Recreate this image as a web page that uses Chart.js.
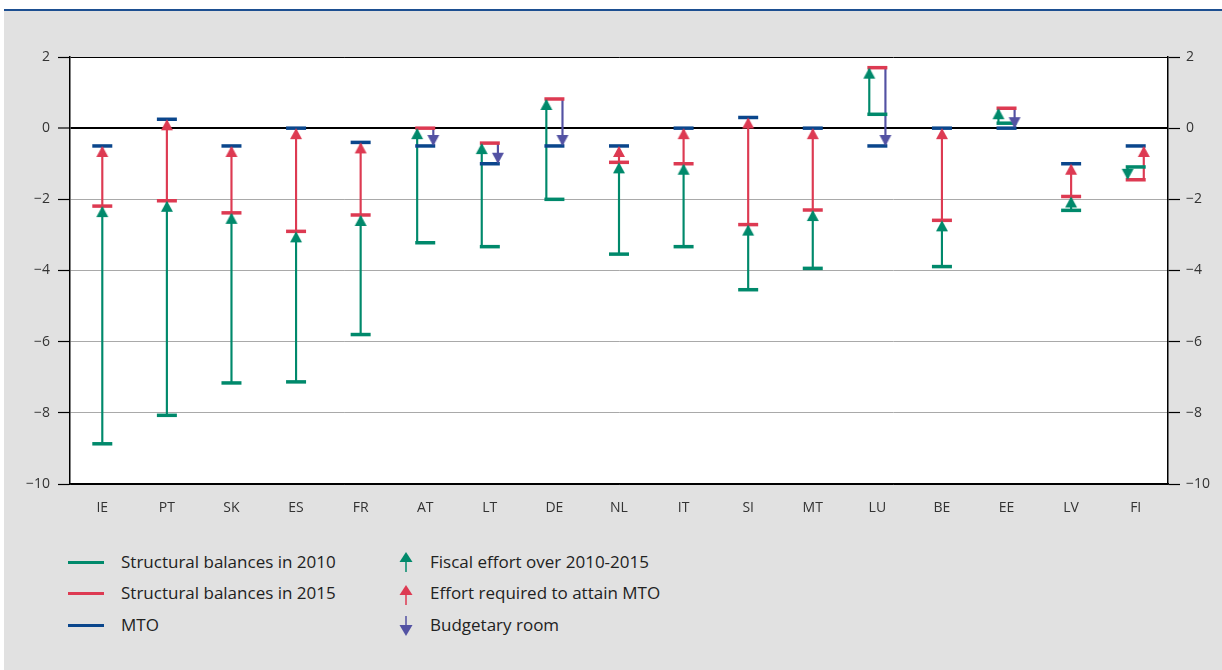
<!DOCTYPE html>
<html>
<head>
<meta charset="utf-8">
<script src="https://cdn.jsdelivr.net/npm/chart.js@4/dist/chart.umd.min.js"></script>
<style>
html,body{margin:0;padding:0;background:#fff;width:1222px;height:670px;overflow:hidden;font-family:'Open Sans',sans-serif;}
#topline{position:absolute;left:4px;top:9px;width:1218px;height:2px;background:#1d4f91;}
#panel{position:absolute;left:4px;top:11px;width:1218px;height:659px;background:#e1e1e1;}
#wrap{position:absolute;left:0;top:0;width:1222px;height:530px;}
.sw{position:absolute;left:68px;width:36px;height:3px;}
.lt{position:absolute;font-size:17px;color:#222;line-height:20px;white-space:nowrap;}
.ic{position:absolute;left:399px;}
</style>
</head>
<body>
<div id="topline"></div>
<div id="panel"></div>
<div id="wrap"><canvas id="c" width="1222" height="530"></canvas></div>

<div class="sw" style="top:561px;background:#00896b"></div>
<div class="lt" style="left:121px;top:552px">Structural balances in 2010</div>
<div class="sw" style="top:592px;background:#dd3a52"></div>
<div class="lt" style="left:121px;top:583px">Structural balances in 2015</div>
<div class="sw" style="top:624px;background:#0a468c"></div>
<div class="lt" style="left:121px;top:615px">MTO</div>

<svg class="ic" style="top:552px" width="14" height="21"><polygon points="0.5,10 13.5,10 7,0" fill="#00896b"/><rect x="6.25" y="9" width="1.5" height="11" fill="#00896b"/></svg>
<div class="lt" style="left:430px;top:552px">Fiscal effort over 2010-2015</div>
<svg class="ic" style="top:585px" width="14" height="21"><polygon points="0.5,10 13.5,10 7,0" fill="#dd3a52"/><rect x="6.25" y="9" width="1.5" height="11" fill="#dd3a52"/></svg>
<div class="lt" style="left:430px;top:583px">Effort required to attain MTO</div>
<svg class="ic" style="top:616px" width="14" height="21"><rect x="6.25" y="0" width="1.5" height="11" fill="#5352a3"/><polygon points="0.5,9 13.5,9 7,20" fill="#5352a3"/></svg>
<div class="lt" style="left:430px;top:615px">Budgetary room</div>

<script>
// ---- data ----
const categories = ['IE','PT','SK','ES','FR','AT','LT','DE','NL','IT','SI','MT','LU','BE','EE','LV','FI'];
const sb2010 = [-8.87,-8.07,-7.16,-7.13,-5.8,-3.22,-3.33,-2.0,-3.54,-3.33,-4.54,-3.94,0.39,-3.89,0.14,-2.31,-1.09];
const sb2015 = [-2.19,-2.04,-2.38,-2.9,-2.44,0.0,-0.42,0.82,-0.96,-1.0,-2.71,-2.3,1.7,-2.59,0.56,-1.92,-1.45];
const mto    = [-0.5,0.25,-0.5,0.0,-0.4,-0.5,-1.0,-0.5,-0.5,0.0,0.3,0.0,-0.5,0.0,0.0,-1.0,-0.5];
const yTicks = [2,0,-2,-4,-6,-8,-10];

// ---- styles ----
const GREEN='#00896b', RED='#dd3a52', BLUE='#0a468c', PURPLE='#5352a3';
const SHIFT = 0.125;

function arrowImg(color, down){
  const c=document.createElement('canvas'); c.width=14; c.height=26;
  const g=c.getContext('2d'); g.fillStyle=color; g.beginPath();
  if(!down){ g.moveTo(7,13); g.lineTo(13,24); g.lineTo(1,24); }
  else { g.moveTo(7,13); g.lineTo(13,2); g.lineTo(1,2); }
  g.closePath(); g.fill(); return c;
}
const imgs = {
  gUp: arrowImg(GREEN,false), gDown: arrowImg(GREEN,true),
  rUp: arrowImg(RED,false), pDown: arrowImg(PURPLE,true)
};

// ---- build arrow datasets from the data ----
const fiscalBars=[], fiscalPts=[], reqBars=[], reqPts=[], roomBars=[], roomPts=[];
categories.forEach((c,i)=>{
  const split = sb2015[i] > mto[i] || sb2015[i] < sb2010[i];
  const xg = split ? i - SHIFT : i, xo = split ? i + SHIFT : i;
  fiscalBars.push({x:xg, y:[sb2010[i], sb2015[i]]});
  fiscalPts.push({x:xg, y:sb2015[i], down: sb2015[i] < sb2010[i]});
  if (mto[i] > sb2015[i]) { reqBars.push({x:xo, y:[sb2015[i], mto[i]]}); reqPts.push({x:xo, y:mto[i]}); }
  else if (mto[i] < sb2015[i]) { roomBars.push({x:xo, y:[sb2015[i], mto[i]]}); roomPts.push({x:xo, y:mto[i]}); }
});
const markers = arr => arr.map((v,i)=>({x:i, y:v}));

const barDs = (data,color,label) => ({type:'bar', label, data, backgroundColor:color, borderWidth:0,
  barThickness:1.5, grouped:false, order:3});
const headDs = (data,style,label) => ({type:'scatter', label, data, pointStyle:style, pointRadius:6,
  pointBorderWidth:0, order:0});
const markDs = (data,color,label) => ({type:'scatter', label, data, pointStyle:'line', pointRadius:10,
  pointBorderWidth:3.5, borderColor:color, backgroundColor:color, order:1});

const plotBg = { id:'plotBg', beforeDraw(chart){ const {ctx, chartArea:a}=chart; ctx.save();
  ctx.fillStyle='#fff'; ctx.fillRect(a.left,a.top,a.right-a.left,a.bottom-a.top); ctx.restore(); } };

const tickFont = {family:"'Open Sans', sans-serif", size:14};
const fmt = v => v < 0 ? '\u2212' + Math.abs(v) : String(v);

new Chart(document.getElementById('c'), {
  type:'scatter',
  data:{ datasets:[
    headDs(fiscalPts, ctx => (ctx.raw && ctx.raw.down) ? imgs.gDown : imgs.gUp, 'Fiscal effort over 2010-2015'),
    headDs(reqPts, imgs.rUp, 'Effort required to attain MTO'),
    headDs(roomPts, imgs.pDown, 'Budgetary room'),
    markDs(markers(sb2015), RED, 'Structural balances in 2015'),
    markDs(markers(sb2010), GREEN, 'Structural balances in 2010'),
    markDs(markers(mto), BLUE, 'MTO'),
    barDs(fiscalBars, GREEN, 'fiscal shaft'),
    barDs(reqBars, RED, 'required shaft'),
    barDs(roomBars, PURPLE, 'room shaft')
  ]},
  options:{
    responsive:false, animation:false, events:[], devicePixelRatio:1,
    layout:{padding:{top:57,left:0,right:0,bottom:0}},
    plugins:{legend:{display:false}, tooltip:{enabled:false}},
    scales:{
      x:{type:'linear', min:-0.5, max:16.5, offset:false,
        grid:{display:false, drawTicks:false, offset:false},
        border:{display:true, color:'#000', width:1.5},
        afterBuildTicks: ax => { ax.ticks = categories.map((c,i)=>({value:i})); },
        afterFit: ax => { ax.height = 46; },
        ticks:{autoSkip:false, maxRotation:0, padding:16, color:'#333', font:tickFont,
          callback: v => categories[v]}
      },
      y:{type:'linear', position:'left', min:-10, max:2,
        afterBuildTicks: ax => { ax.ticks = yTicks.map(v=>({value:v})); },
        afterFit: ax => { ax.width = 70; },
        grid:{color: c => (c.tick && [0,2,-10].includes(c.tick.value)) ? '#000' : '#a9a9a9',
              lineWidth: c => (c.tick && c.tick.value===0) ? 2 : 1,
              tickLength:12, tickColor:'#000', tickWidth:1.2},
        border:{display:true, color:'#000', width:1.5},
        ticks:{padding:8, color:'#333', font:tickFont, callback: fmt}
      },
      y2:{type:'linear', position:'right', min:-10, max:2,
        afterBuildTicks: ax => { ax.ticks = yTicks.map(v=>({value:v})); },
        afterFit: ax => { ax.width = 54; },
        grid:{drawOnChartArea:false, tickLength:12, tickColor:'#000', tickWidth:1.2},
        border:{display:true, color:'#000', width:1.5},
        ticks:{padding:6, color:'#333', font:tickFont, callback: fmt}
      }
    }
  },
  plugins:[plotBg]
});
</script>
</body>
</html>
